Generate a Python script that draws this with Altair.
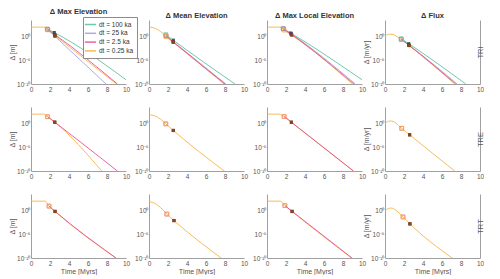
import altair as alt
import pandas as pd

FONT = "Liberation Sans"

SERIES_KEYS = ["100", "25", "2.5", "0.25"]
SERIES_LABELS = ["dt = 100 ka", "dt = 25 ka", "dt = 2.5 ka", "dt = 0.25 ka"]
LINE_COLORS = ["#55c09c", "#a29ede", "#e8488f", "#f4b03e"]
DARK_COLORS = ["#1d6d57", "#4a3e8e", "#8e1f48", "#7d4a1c"]
LINE_ORDER = ["100", "25", "0.25", "2.5"]
MARK_ORDER = ["100", "25", "2.5", "0.25"]

COL_TITLES = ["Δ Max Elevation", "Δ Mean Elevation", "Δ Max Local Elevation", "Δ Flux"]
ROW_LABELS = ["TRI", "TRE", "TRT"]
Y_TITLES = ["Δ [m]", None, None, "Δ [m/yr]"]
X_TICKS = [0, 2, 4, 6, 8, 10]
Y_TICKS = [1e-10, 1e-5, 1]
Y_TOP_LOG = 3.5

# ---- curves: series -> (time [Myrs], log10(Δ)) ----
TRI_MAX = {
    "100": ([1.75, 2.45, 10.0], [1.55, 0.85, -9.1]),
    "25": ([1.7, 2.5, 7.9], [1.6, 0.1, -10]),
    "0.25": ([0, 1.45, 1.8, 2.55, 9.0], [2.0, 2.0, 1.4, 0.2, -10]),
    "2.5": ([1.75, 2.5, 9.1], [1.5, 0.45, -10]),
}
TRI_MEAN = {
    "100": ([1.77, 2.56, 9.05], [0.42, -0.76, -10]),
    "25": ([1.78, 2.55, 8.1], [0.2, -1.05, -10]),
    "0.25": ([0, 0.4, 0.8, 1.2, 1.5, 1.8, 2.55, 7.9], [2.0, 1.9, 1.6, 1.1, 0.6, 0.0, -1.2, -10]),
    "2.5": ([1.8, 2.55, 8.0], [0.1, -1.15, -10]),
}
TRI_LOCAL = {
    "100": ([1.7, 2.5, 10.0], [1.7, 0.75, -9.1]),
    "25": ([1.7, 2.55, 9.3], [1.65, 0.55, -10]),
    "0.25": ([0, 1.4, 1.8, 2.6, 9.0], [2.0, 2.0, 1.35, 0.3, -10]),
    "2.5": ([1.75, 2.55, 9.15], [1.6, 0.5, -10]),
}
TRI_FLUX = {
    "100": ([1.7, 2.5, 8.5], [-0.45, -1.5, -10]),
    "25": ([1.7, 2.5, 7.6], [-0.55, -1.75, -10]),
    "0.25": ([0, 0.25, 0.55, 0.85, 1.15, 1.45, 1.75, 2.55, 7.35],
             [0.1, 0.4, 0.52, 0.45, 0.15, -0.3, -0.65, -1.9, -10]),
    "2.5": ([1.72, 2.5, 7.45], [-0.6, -1.8, -10]),
}
TRE_MAX = {
    "0.25": ([0, 1.3, 1.75, 2.5, 7.45], [2.0, 2.0, 1.45, 0.3, -10]),
    "2.5": ([1.75, 2.5, 9.1], [1.45, 0.3, -10]),
}
TRE_MEAN = {
    "0.25": ([0, 0.4, 0.8, 1.2, 1.5, 1.77, 2.56, 7.92],
             [1.85, 1.75, 1.45, 0.95, 0.45, -0.05, -1.45, -10]),
}
TRE_LOCAL = {
    "0.25": ([0, 1.3, 1.8, 2.57, 9.1], [2.0, 2.0, 1.5, 0.28, -10]),
    "2.5": ([1.8, 2.57, 9.1], [1.5, 0.28, -10]),
}
TRE_FLUX = {
    "0.25": ([0, 0.25, 0.55, 0.85, 1.15, 1.45, 1.76, 2.59, 7.34],
             [0.07, 0.4, 0.55, 0.45, 0.1, -0.45, -1.0, -2.36, -10]),
}
TRT_MAX = {
    "0.25": ([0, 1.49, 1.9, 2.53, 8.93], [2.0, 2.0, 0.92, -0.2, -10]),
    "2.5": ([1.9, 2.53, 8.95], [0.95, -0.15, -10]),
}
TRT_MEAN = {
    "0.25": ([0, 0.4, 0.8, 1.2, 1.5, 1.88, 2.63, 7.58],
             [1.85, 1.7, 1.3, 0.65, 0.1, -0.74, -2.1, -10]),
}
TRT_LOCAL = {
    "0.25": ([0, 1.4, 1.88, 2.64, 8.9], [2.0, 2.0, 1.05, -0.2, -10]),
    "2.5": ([1.88, 2.64, 8.95], [1.05, -0.15, -10]),
}
TRT_FLUX = {
    "0.25": ([0, 0.3, 0.62, 0.9, 1.2, 1.5, 1.9, 2.62, 7.07],
             [0.0, 0.38, 0.54, 0.4, 0.0, -0.55, -1.34, -2.8, -10]),
}

# ---- markers: series -> (t_open, log_open, t_dark, log_dark) ----
TRI_MAX_MK = {"100": (1.75, 1.55, 2.45, 0.85), "25": (1.7, 1.6, 2.5, 0.1),
              "0.25": (1.8, 1.4, 2.55, 0.2), "2.5": (1.75, 1.5, 2.5, 0.45)}
TRI_MEAN_MK = {"100": (1.77, 0.42, 2.56, -0.76), "25": (1.78, 0.2, 2.55, -1.05),
               "0.25": (1.8, 0.0, 2.55, -1.2), "2.5": (1.8, 0.1, 2.55, -1.15)}
TRI_LOCAL_MK = {"100": (1.7, 1.7, 2.5, 0.75), "25": (1.7, 1.65, 2.55, 0.55),
                "0.25": (1.8, 1.35, 2.6, 0.3), "2.5": (1.75, 1.6, 2.55, 0.5)}
TRI_FLUX_MK = {"100": (1.7, -0.45, 2.5, -1.5), "25": (1.7, -0.55, 2.5, -1.75),
               "0.25": (1.75, -0.65, 2.55, -1.9), "2.5": (1.72, -0.6, 2.5, -1.8)}
TRE_MAX_MK = {"0.25": (1.75, 1.45, 2.5, 0.3), "2.5": (1.75, 1.45, 2.5, 0.3)}
TRE_MEAN_MK = {"0.25": (1.77, -0.05, 2.56, -1.45), "2.5": (1.77, -0.05, 2.56, -1.45)}
TRE_LOCAL_MK = {"0.25": (1.8, 1.5, 2.57, 0.28), "2.5": (1.8, 1.5, 2.57, 0.28)}
TRE_FLUX_MK = {"0.25": (1.76, -1.0, 2.59, -2.36), "2.5": (1.76, -1.0, 2.59, -2.36)}
TRT_MAX_MK = {"0.25": (1.9, 0.92, 2.53, -0.2), "2.5": (1.9, 0.95, 2.53, -0.15)}
TRT_MEAN_MK = {"0.25": (1.88, -0.74, 2.63, -2.1), "2.5": (1.88, -0.74, 2.63, -2.1)}
TRT_LOCAL_MK = {"0.25": (1.88, 1.05, 2.64, -0.2), "2.5": (1.88, 1.05, 2.64, -0.15)}
TRT_FLUX_MK = {"0.25": (1.9, -1.34, 2.62, -2.8), "2.5": (1.9, -1.34, 2.62, -2.8)}

CURVES = [[TRI_MAX, TRI_MEAN, TRI_LOCAL, TRI_FLUX],
          [TRE_MAX, TRE_MEAN, TRE_LOCAL, TRE_FLUX],
          [TRT_MAX, TRT_MEAN, TRT_LOCAL, TRT_FLUX]]
MARKS = [[TRI_MAX_MK, TRI_MEAN_MK, TRI_LOCAL_MK, TRI_FLUX_MK],
         [TRE_MAX_MK, TRE_MEAN_MK, TRE_LOCAL_MK, TRE_FLUX_MK],
         [TRT_MAX_MK, TRT_MEAN_MK, TRT_LOCAL_MK, TRT_FLUX_MK]]

LABEL_OF = dict(zip(SERIES_KEYS, SERIES_LABELS))
W, H = 95, 64
LABEL_EXPR = ("datum.value >= 0.5 ? '10⁰' : (datum.value >= 1e-6 ? '10⁻⁵' : '10⁻¹⁰')")
AX_GRAY = "#555555"


def yscale():
    return alt.Scale(type="log", domain=[1e-10, 10 ** Y_TOP_LOG], nice=False)


def xenc(r):
    return alt.X("t:Q", scale=alt.Scale(domain=[0, 10], nice=False, zero=False),
                 axis=alt.Axis(values=X_TICKS, title=("Time [Myrs]" if r == 2 else None),
                               format="d", labelFlush=False, titleColor=AX_GRAY))


def build_panel(r, c):
    curves = CURVES[r][c]
    marks = MARKS[r][c]
    line_rows, open_rows, dark_rows = [], [], []
    for k in LINE_ORDER:
        if k in curves:
            ts, vs = curves[k]
            for t, v in zip(ts, vs):
                line_rows.append({"t": t, "d": 10.0 ** v, "dt": LABEL_OF[k]})
    for k in MARK_ORDER:
        if k in marks:
            t1, v1, t2, v2 = marks[k]
            open_rows.append({"t": t1, "d": 10.0 ** v1, "dt": LABEL_OF[k]})
            dark_rows.append({"t": t2, "d": 10.0 ** v2, "dt": LABEL_OF[k]})
    line_df = pd.DataFrame(line_rows)
    open_df = pd.DataFrame(open_rows)
    dark_df = pd.DataFrame(dark_rows)

    yaxis_kw = dict(values=Y_TICKS, labelExpr=LABEL_EXPR, title=Y_TITLES[c], titleColor=AX_GRAY,
                    labelPadding=1, titlePadding=1)

    if r == 0 and c == 0:
        legend = alt.Legend(title=None, orient="none", legendX=52, legendY=-3,
                            symbolType="M-1.6,0L1.6,0", symbolSize=49, symbolStrokeWidth=1.5,
                            labelFontSize=6.5, labelFont=FONT, labelColor="#333",
                            padding=3, rowPadding=0.8, labelOffset=4,
                            strokeColor="#8c8c8c", fillColor="white", cornerRadius=0)
    else:
        legend = None

    lines = alt.Chart(line_df).mark_line(strokeWidth=1, opacity=0.85, interpolate="monotone").encode(
        x=xenc(r),
        y=alt.Y("d:Q", scale=yscale(), axis=alt.Axis(**yaxis_kw)),
        color=alt.Color("dt:N", scale=alt.Scale(domain=SERIES_LABELS, range=LINE_COLORS),
                        legend=legend),
    )
    open_pts = alt.Chart(open_df).mark_point(shape="square", filled=False, size=14, strokeWidth=1).encode(
        x=xenc(r),
        y=alt.Y("d:Q", scale=yscale(), axis=None),
        stroke=alt.Stroke("dt:N", scale=alt.Scale(domain=SERIES_LABELS, range=LINE_COLORS), legend=None),
    )
    dark_pts = alt.Chart(dark_df).mark_point(shape="square", filled=True, size=10, opacity=1, strokeWidth=0).encode(
        x=xenc(r),
        y=alt.Y("d:Q", scale=yscale(), axis=None),
        fill=alt.Fill("dt:N", scale=alt.Scale(domain=SERIES_LABELS, range=DARK_COLORS), legend=None),
    )
    layers = [lines, open_pts, dark_pts]
    if c == 3:
        right = alt.Chart(line_df).mark_line(opacity=0).encode(
            x=xenc(r),
            y=alt.Y("d:Q", scale=yscale(),
                    axis=alt.Axis(orient="right", values=[1], labels=False, ticks=False, grid=False,
                                  title=ROW_LABELS[r], titleAngle=270, titlePadding=4,
                                  titleFontSize=7.5, titleColor=AX_GRAY)),
        )
        layers.append(right)
    ch = alt.layer(*layers).resolve_axis(y="independent").properties(width=W, height=H)
    if r == 0:
        ch = ch.properties(title=alt.TitleParams(COL_TITLES[c]))
    return ch


panels = [build_panel(r, c) for r in range(3) for c in range(4)]

chart = (
    alt.concat(*panels, columns=4, spacing=alt.RowColnumber(row=23, column=23), bounds="flush")
    .resolve_scale(color="independent", stroke="independent", fill="independent")
    .properties(padding=0)
    .configure_view(stroke=None)
    .configure_axis(grid=False, ticks=False, domainColor="#a0a0a0", domainWidth=1,
                    labelFont=FONT, titleFont=FONT, labelFontSize=6.5, titleFontSize=7,
                    labelColor=AX_GRAY, titleColor=AX_GRAY, labelPadding=2, titlePadding=1,
                    titleFontWeight="normal")
    .configure_title(font=FONT, fontSize=7.5, fontWeight="bold", color="#333", offset=1)
)

chart.save("out.html", embed_options={"renderer": "svg", "actions": False})
